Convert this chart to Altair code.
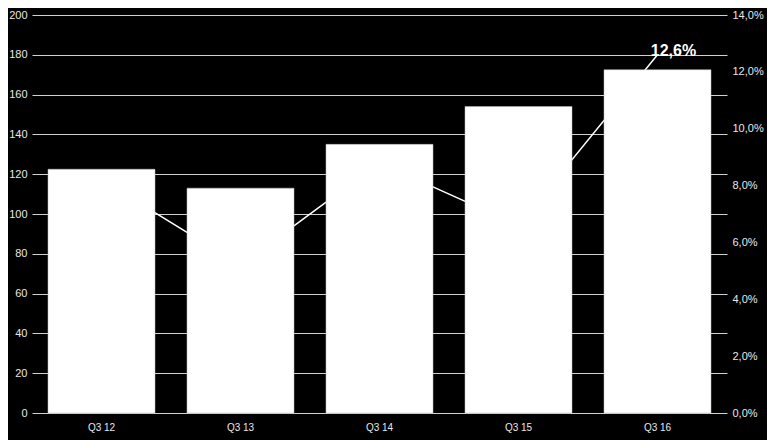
import altair as alt
import pandas as pd

quarters = ["Q3 12", "Q3 13", "Q3 14", "Q3 15", "Q3 16"]
volumes = [122.5, 113, 135, 154, 172.5]
margins = [8.2, 5.2, 8.8, 6.6, 12.6]

df = pd.DataFrame({"q": quarters, "v": volumes, "m": margins})
df["label"] = ["" for _ in quarters]
df.loc[df.index[-1], "label"] = f"{margins[-1]:.1f}%".replace(".", ",")

FONT = "Liberation Sans"
LBL = "#e8e8e8"

x = alt.X("q:N", sort=quarters, title=None,
          scale=alt.Scale(paddingInner=0.23, paddingOuter=0.115),
          axis=alt.Axis(labelAngle=0, ticks=False, domain=False, labelFontSize=10,
                        labelColor=LBL, labelFont=FONT, labelPadding=9))

bars = alt.Chart(df).mark_bar(color="white", stroke="#bbbbbb", strokeWidth=0.5).encode(
    x=x,
    y=alt.Y("v:Q", title=None,
            scale=alt.Scale(domain=[0, 200], nice=False),
            axis=alt.Axis(values=list(range(0, 201, 20)), grid=True, gridColor="#d0d0d0",
                          gridWidth=1, ticks=False, domain=False, labelFontSize=11,
                          labelColor=LBL, labelFont=FONT, labelPadding=5)),
)

pct_scale = alt.Scale(domain=[0, 14], nice=False)
line = alt.Chart(df).mark_line(color="white", strokeWidth=1.5).encode(
    x=x,
    y=alt.Y("m:Q", title=None, scale=pct_scale,
            axis=alt.Axis(orient="right", values=list(range(0, 15, 2)), grid=False, ticks=False,
                          domain=False, labelFontSize=11, labelColor=LBL, labelFont=FONT,
                          labelPadding=5,
                          labelExpr="replace(format(datum.value, '.1f'), '.', ',') + '%'")),
)

text = alt.Chart(df).mark_text(color="white", fontSize=16, fontWeight="bold", font=FONT,
                               dx=16, dy=-4, baseline="middle").encode(
    x=x,
    y=alt.Y("m:Q", scale=pct_scale, axis=None),
    text="label:N",
)

chart = alt.layer(line, bars, text).resolve_scale(y="independent").properties(
    width=695, height=398,
    autosize=alt.AutoSizeParams(type="none"),
    padding={"left": 24, "top": 7, "right": 40, "bottom": 27},
    background="black",
).configure_view(stroke=None)

chart.save("out.html", embed_options={"renderer": "svg", "actions": False})
